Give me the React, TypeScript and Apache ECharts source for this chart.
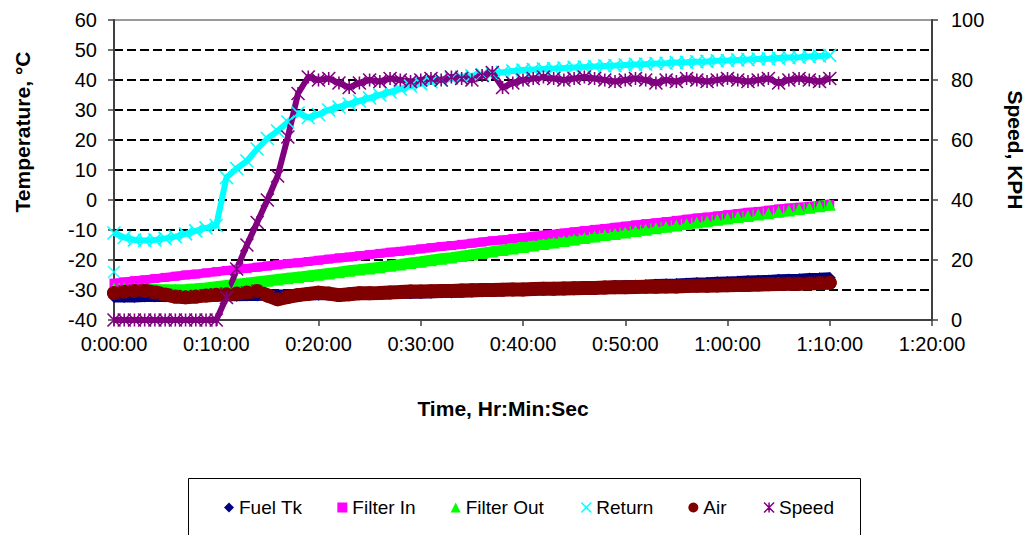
import React, { useEffect, useRef } from 'react';
import * as echarts from 'echarts';

// time in minutes from start (1-minute readings)
const timeMin = [
  0, 1, 2, 3, 4, 5, 6, 7, 8, 9,
  10, 11, 12, 13, 14, 15, 16, 17, 18, 19,
  20, 21, 22, 23, 24, 25, 26, 27, 28, 29,
  30, 31, 32, 33, 34, 35, 36, 37, 38, 39,
  40, 41, 42, 43, 44, 45, 46, 47, 48, 49,
  50, 51, 52, 53, 54, 55, 56, 57, 58, 59,
  60, 61, 62, 63, 64, 65, 66, 67, 68, 69,
  70,
];

const fuelTk = [
  -32.3, -32.3, -32.3, -32.2, -32.2, -32.2, -32.1, -32.1, -32.0, -32.0,
  -32.0, -31.9, -31.9, -31.8, -31.8, -31.7, -31.7, -31.7, -31.6, -31.6,
  -31.6, -31.5, -31.5, -31.4, -31.4, -31.3, -31.3, -31.2, -31.1, -31.1,
  -31.0, -30.9, -30.8, -30.8, -30.7, -30.6, -30.5, -30.4, -30.2, -30.1,
  -30.0, -29.9, -29.7, -29.6, -29.4, -29.3, -29.2, -29.0, -28.9, -28.7,
  -28.6, -28.5, -28.4, -28.2, -28.1, -28.0, -27.8, -27.7, -27.6, -27.4,
  -27.3, -27.2, -27.0, -26.9, -26.8, -26.6, -26.5, -26.4, -26.2, -26.1,
  -25.9,
];

const filterIn = [
  -27.7, -27.3, -26.9, -26.6, -26.2, -25.8, -25.4, -25.0, -24.7, -24.3,
  -23.9, -23.5, -23.1, -22.8, -22.4, -22.0, -21.6, -21.2, -20.9, -20.5,
  -20.1, -19.7, -19.3, -19.0, -18.6, -18.2, -17.8, -17.4, -17.1, -16.7,
  -16.3, -15.9, -15.5, -15.2, -14.8, -14.4, -14.0, -13.6, -13.3, -12.9,
  -12.5, -12.1, -11.7, -11.4, -11.0, -10.6, -10.2, -9.8, -9.5, -9.1,
  -8.7, -8.3, -7.9, -7.6, -7.2, -6.8, -6.4, -6.0, -5.7, -5.3,
  -4.9, -4.5, -4.1, -3.8, -3.4, -3.0, -2.7, -2.4, -2.1, -1.8,
  -1.5,
];

const filterOut = [
  -29.5, -29.5, -29.6, -29.7, -29.8, -29.9, -29.9, -29.8, -29.6, -29.3,
  -28.9, -28.5, -28.1, -27.7, -27.3, -26.9, -26.5, -26.1, -25.7, -25.3,
  -24.9, -24.5, -24.1, -23.6, -23.2, -22.8, -22.4, -21.9, -21.5, -21.0,
  -20.6, -20.1, -19.6, -19.2, -18.7, -18.2, -17.7, -17.2, -16.7, -16.2,
  -15.7, -15.2, -14.7, -14.2, -13.7, -13.2, -12.7, -12.2, -11.7, -11.3,
  -10.8, -10.3, -9.9, -9.4, -8.9, -8.5, -8.0, -7.5, -7.1, -6.6,
  -6.2, -5.7, -5.3, -4.8, -4.4, -3.9, -3.5, -3.0, -2.6, -2.1,
  -1.6,
];

const returnTemp = [
  -11.0, -12.5, -13.3, -13.5, -13.3, -12.8, -12.2, -11.3, -10.3, -9.3,
  -8.5, 7.5, 10.5, 13.0, 17.0, 20.5, 23.0, 26.0, 29.0, 27.5,
  28.5, 30.0, 31.0, 32.0, 33.0, 34.0, 35.0, 36.0, 37.0, 38.0,
  38.8, 39.4, 40.0, 40.5, 41.0, 41.4, 41.8, 42.2, 42.6, 43.0,
  43.3, 43.5, 43.7, 43.8, 44.0, 44.2, 44.3, 44.5, 44.7, 44.8,
  45.0, 45.2, 45.3, 45.5, 45.6, 45.8, 45.9, 46.1, 46.2, 46.4,
  46.5, 46.7, 46.8, 47.0, 47.1, 47.3, 47.5, 47.6, 47.8, 48.0,
  48.2,
];

// single early Return reading at the very start
const returnFirstTime = [0];
const returnFirstValue = [-24];

const air = [
  -31.0, -30.6, -30.3, -30.3, -30.8, -31.5, -32.2, -32.4, -32.2, -31.8,
  -31.6, -31.4, -31.2, -30.8, -30.3, -31.8, -33.1, -32.3, -31.7, -31.3,
  -30.9, -31.2, -31.7, -31.4, -31.1, -31.1, -31.0, -30.8, -30.7, -30.5,
  -30.5, -30.4, -30.3, -30.3, -30.2, -30.1, -30.0, -30.0, -29.9, -29.8,
  -29.8, -29.7, -29.6, -29.6, -29.5, -29.4, -29.3, -29.3, -29.2, -29.1,
  -29.1, -29.0, -28.9, -28.9, -28.8, -28.8, -28.7, -28.6, -28.6, -28.5,
  -28.4, -28.3, -28.3, -28.2, -28.1, -28.0, -27.9, -27.9, -27.8, -27.7,
  -27.6,
];

const speed = [
  0, 0, 0, 0, 0, 0, 0, 0, 0, 0,
  0, 7.5, 17, 25, 32.5, 40, 48, 61, 75.5, 81,
  80, 80.5, 79, 77.5, 79, 80, 79.5, 80.5, 80, 79.5,
  80, 80.5, 80, 81, 80.5, 80, 81.5, 82.5, 77.5, 79,
  80, 80.5, 81, 80.5, 80, 80.5, 81, 80.5, 80, 79.5,
  80, 80.5, 80, 79, 80, 79.5, 80.5, 80, 79.5, 80,
  80.5, 80, 79.5, 80, 80.5, 79, 80, 80.5, 80, 79.5,
  80.5,
];

const seriesNames = ['Fuel Tk', 'Filter In', 'Filter Out', 'Return', 'Air', 'Speed'];
const seriesColors = ['#000080', '#FF00FF', '#00FF00', '#00FFFF', '#800000', '#800080'];

const CROSS = 'path://M0,0L10,10M10,0L0,10';
const STAR = 'path://M0,0L10,10M10,0L0,10M5,0L5,10';
const FONT = '"Liberation Sans", Arial, sans-serif';

const pairs = (times: number[], vals: number[]) => times.map((t, i) => [t, vals[i]]);

const fmtTime = (v: number) => {
  const h = Math.floor(v / 60);
  const m = v % 60;
  return `${h}:${String(m).padStart(2, '0')}:00`;
};

export default function App() {
  const ref = useRef<HTMLDivElement>(null);

  useEffect(() => {
    if (!ref.current) return;
    const chart = echarts.init(ref.current, null, { renderer: 'svg' });

    const bandSeries = (
      idx: number,
      vals: number[],
      symbol: string,
      symbolSize: number,
      lineWidth: number,
      cap: string,
      yAxisIndex = 0,
      stroked = false,
    ) => ({
      name: seriesNames[idx],
      type: 'line',
      yAxisIndex,
      data: pairs(timeMin, vals),
      symbol,
      symbolSize,
      showSymbol: true,
      showAllSymbol: true,
      clip: false,
      silent: true,
      lineStyle: { color: seriesColors[idx], width: lineWidth, cap, join: 'round' },
      itemStyle: stroked
        ? { color: seriesColors[idx], borderColor: seriesColors[idx], borderWidth: 1.6 }
        : { color: seriesColors[idx], borderWidth: 0 },
    });

    const axisLineStyle = { color: '#404040', width: 2 };
    const tickStyle = { color: '#404040', width: 1.5 };
    const labelStyle = { fontFamily: FONT, fontSize: 20, color: '#000' };
    const titleFont = `bold 21px ${FONT}`;

    chart.setOption({
      animation: false,
      backgroundColor: '#fff',
      grid: {
        left: 114,
        right: 96,
        top: 20,
        bottom: 215,
        show: true,
        borderColor: '#9a9a9a',
        borderWidth: 2,
        backgroundColor: 'transparent',
        outerBoundsMode: 'none',
      },
      xAxis: {
        type: 'value',
        min: 0,
        max: 80,
        interval: 10,
        axisLine: { show: true, onZero: false, lineStyle: axisLineStyle },
        axisTick: { show: true, inside: false, length: 6, lineStyle: tickStyle },
        axisLabel: { ...labelStyle, margin: 14, formatter: fmtTime },
        splitLine: { show: false },
      },
      yAxis: [
        {
          type: 'value',
          position: 'left',
          min: -40,
          max: 60,
          interval: 10,
          axisLine: { show: true, onZero: false, lineStyle: axisLineStyle },
          axisTick: { show: true, inside: false, length: 6, lineStyle: tickStyle },
          axisLabel: { ...labelStyle, margin: 17 },
          splitLine: {
            show: true,
            showMinLine: false,
            showMaxLine: false,
            lineStyle: { color: '#000', width: 2.2, type: [9, 4] },
          },
        },
        {
          type: 'value',
          position: 'right',
          min: 0,
          max: 100,
          interval: 20,
          axisLine: { show: true, onZero: false, lineStyle: axisLineStyle },
          axisTick: { show: true, inside: false, length: 6, lineStyle: tickStyle },
          axisLabel: { ...labelStyle, margin: 19 },
          splitLine: { show: false },
        },
      ],
      legend: {
        left: 224,
        top: 498,
        padding: 0,
        itemWidth: 10,
        itemHeight: 10,
        itemGap: 35,
        selectedMode: false,
        textStyle: { fontFamily: FONT, fontSize: 19, color: '#000' },
        data: [
          { name: 'Fuel Tk', icon: 'diamond', itemStyle: { color: seriesColors[0], borderWidth: 0 } },
          { name: 'Filter In', icon: 'rect', itemStyle: { color: seriesColors[1], borderWidth: 0 } },
          { name: 'Filter Out', icon: 'triangle', itemStyle: { color: seriesColors[2], borderWidth: 0 } },
          { name: 'Return', icon: CROSS, itemStyle: { color: 'none', borderColor: seriesColors[3], borderWidth: 1.5 } },
          { name: 'Air', icon: 'circle', itemStyle: { color: seriesColors[4], borderWidth: 0 } },
          { name: 'Speed', icon: STAR, itemStyle: { color: 'none', borderColor: seriesColors[5], borderWidth: 1.5 } },
        ],
      },
      graphic: [
        {
          type: 'rect',
          silent: true,
          shape: { x: 188.5, y: 478.5, width: 672, height: 80 },
          style: { fill: 'none', stroke: '#000', lineWidth: 1 },
        },
        {
          type: 'text',
          silent: true,
          x: 22,
          y: 132,
          rotation: Math.PI / 2,
          style: { text: 'Temperature, °C', font: titleFont, fill: '#000', align: 'center', verticalAlign: 'middle' },
        },
        {
          type: 'text',
          silent: true,
          x: 1015,
          y: 150,
          rotation: -Math.PI / 2,
          style: { text: 'Speed, KPH', font: titleFont, fill: '#000', align: 'center', verticalAlign: 'middle' },
        },
        {
          type: 'text',
          silent: true,
          x: 503,
          y: 408,
          style: { text: 'Time, Hr:Min:Sec', font: titleFont, fill: '#000', align: 'center', verticalAlign: 'middle' },
        },
      ],
      series: [
        bandSeries(0, fuelTk, 'diamond', 12, 11, 'butt'),
        bandSeries(1, filterIn, 'rect', 9, 9, 'butt'),
        bandSeries(2, filterOut, 'triangle', 12, 11, 'butt'),
        bandSeries(3, returnTemp, CROSS, 13, 6, 'butt', 0, true),
        {
          name: 'Return',
          type: 'scatter',
          data: pairs(returnFirstTime, returnFirstValue),
          symbol: CROSS,
          symbolSize: 12,
          clip: false,
          silent: true,
          itemStyle: { color: seriesColors[3], borderColor: seriesColors[3], borderWidth: 1.6 },
        },
        bandSeries(4, air, 'circle', 14, 14, 'round'),
        bandSeries(5, speed, STAR, 13, 6, 'butt', 1, true),
      ],
    });

    return () => chart.dispose();
  }, []);

  return (
    <div
      ref={ref}
      style={{ position: 'fixed', left: 0, top: 0, width: 1028, height: 535, background: '#fff' }}
    />
  );
}
